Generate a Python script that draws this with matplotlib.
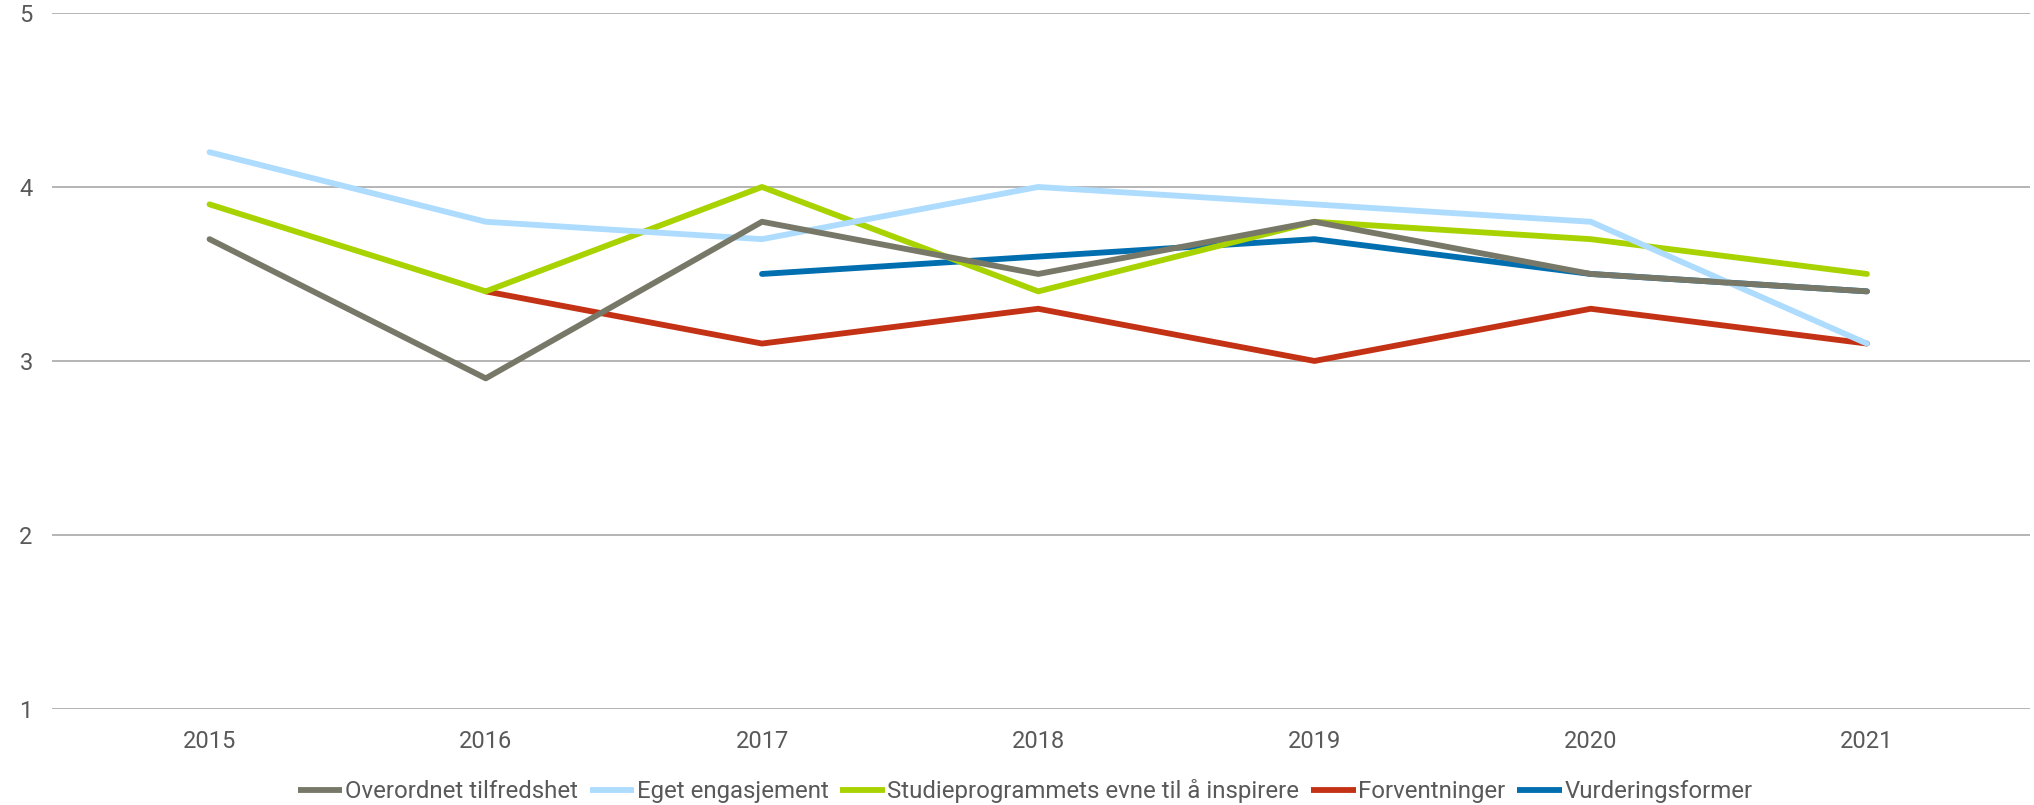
import matplotlib.pyplot as plt
import numpy as np

plt.rcParams['font.family'] = ['Roboto', 'DejaVu Sans']

years = ['2015', '2016', '2017', '2018', '2019', '2020', '2021']

overordnet = [3.7, 2.9, 3.8, 3.5, 3.8, 3.5, 3.4]
engasjement = [4.2, 3.8, 3.7, 4.0, 3.9, 3.8, 3.1]
inspirere = [3.9, 3.4, 4.0, 3.4, 3.8, 3.7, 3.5]
forventninger = [np.nan, 3.4, 3.1, 3.3, 3.0, 3.3, 3.1]
vurdering = [np.nan, np.nan, 3.5, 3.6, 3.7, 3.5, 3.4]

serier = [
    ('Overordnet tilfredshet', overordnet, '#787868', 6),
    ('Eget engasjement', engasjement, '#addcff', 5),
    ('Studieprogrammets evne til å inspirere', inspirere, '#a8d300', 4),
    ('Forventninger', forventninger, '#c43216', 2),
    ('Vurderingsformer', vurdering, '#006eaf', 3),
]

fig = plt.figure(figsize=(20.34, 8.05), dpi=100)
ax = fig.add_axes([0.0256, 0.1193, 0.9724, 0.8646])

x = np.arange(len(years))
for navn, verdier, farge, z in serier:
    ax.plot(x, verdier, color=farge, lw=4.2, label=navn, zorder=z,
            solid_capstyle='round', solid_joinstyle='round')

ax.set_ylim(1, 5)
ax.set_yticks([1, 2, 3, 4, 5])
ax.set_xlim(-0.57, 6.59)
ax.set_xticks(x)
ax.set_xticklabels(years)
ax.grid(axis='y', color='#b4b4b4', lw=1.4, zorder=0)
ax.set_axisbelow(True)
for s in ax.spines.values():
    s.set_visible(False)
ax.tick_params(axis='both', length=0, labelsize=17, labelcolor='#595959')
ax.tick_params(axis='y', pad=14)
ax.tick_params(axis='x', pad=15)

leg = fig.legend(loc='center', bbox_to_anchor=(0.504, 0.017), ncol=5, frameon=False,
                 fontsize=17.3, labelcolor='#595959', handlelength=1.85,
                 handletextpad=0.1, columnspacing=0.5)
for h in leg.get_lines():
    h.set_solid_capstyle('butt')

fig.savefig('out.png', dpi=100)
